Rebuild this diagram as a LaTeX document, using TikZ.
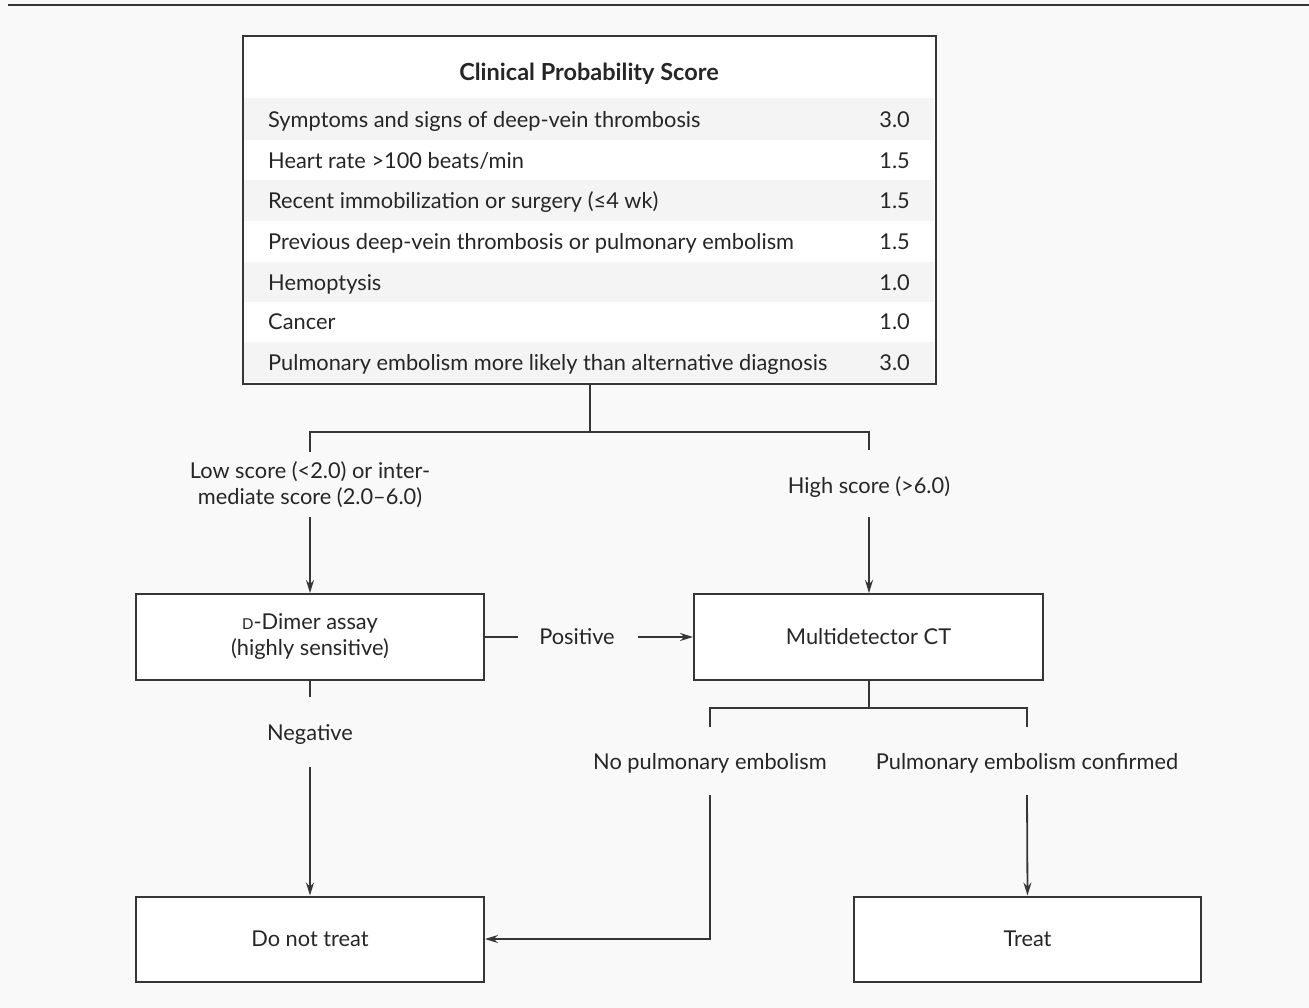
\documentclass[tikz,border=0pt]{standalone}
\usepackage{fontspec}
\setmainfont{Lato}
\usetikzlibrary{arrows.meta}
\definecolor{pagebg}{HTML}{F9F9F9}
\definecolor{stripe}{HTML}{F4F4F4}
\definecolor{ink}{HTML}{262626}
\definecolor{rule}{HTML}{363636}
\begin{document}
\begin{tikzpicture}[x=1pt,y=-1pt,
  font=\fontsize{21.8}{26}\selectfont, text=ink,
  box/.style={draw=rule, line width=2pt, fill=white, inner sep=0pt},
  lbl/.style={inner sep=0pt, align=center, text height=17pt, text depth=2pt},
  twoline/.style={inner sep=0pt, align=center},
  conn/.style={draw=rule, line width=1.8pt},
  arr/.style={conn, -{Stealth[length=13pt,width=8pt]}}]
% page
\fill[pagebg] (0,0) rectangle (1309,1008);
\useasboundingbox (0,0) rectangle (1309,1008);
\draw[rule, line width=2pt] (8,5) -- (1309,5);

% score table
\node[box, minimum width=693pt, minimum height=348pt, anchor=north west] (score) at (242,35) {};
\foreach \yt/\yb in {98/140, 180/221, 262/302, 342/382}
  \fill[stripe] (243.5,\yt) rectangle (933.5,\yb);
\node[lbl, font=\fontsize{23.5}{28}\selectfont\bfseries] (title) at (589,73) {Clinical Probability Score};
\foreach \n/\y/\t/\v in {
  r1/120/{Symptoms and signs of deep-vein thrombosis}/3.0,
  r2/161/{Heart rate >100 beats/min}/1.5,
  r3/201/{Recent immobilization or surgery (≤4 wk)}/1.5,
  r4/242/{Previous deep-vein thrombosis or pulmonary embolism}/1.5,
  r5/283/{Hemoptysis}/1.0,
  r6/322/{Cancer}/1.0,
  r7/363/{Pulmonary embolism more likely than alternative diagnosis}/3.0}{
  \node[lbl, anchor=west] (\n) at (268,\y) {\t};
  \node[lbl, anchor=east] (\n v) at (910,\y) {\v};
}

% branch junctions
\coordinate (split) at (590,432);
\coordinate (lowtop) at (310,432);
\coordinate (hightop) at (869,432);
\coordinate (lowend) at (310,452);
\coordinate (highend) at (869,450);

\node[twoline] (low) at (310,485) {Low score (<2.0) or inter-\\mediate score (2.0–6.0)};
\node[lbl] (high) at (869,486) {High score (>6.0)};

\node[box, minimum width=348pt, minimum height=86pt, align=center] (dd) at (310,637)
  {{\fontsize{15}{15}\selectfont D}-Dimer assay\\(highly sensitive)};
\node[box, minimum width=349pt, minimum height=86pt] (ct) at (868.5,637) {Multidetector CT};

\node[lbl] (pos) at (577,637) {Positive};
\node[lbl] (neg) at (310,733) {Negative};

\node[lbl] (nope) at (710,762) {No pulmonary embolism};
\node[lbl] (pe) at (1027,762) {Pulmonary embolism confirmed};

\node[box, minimum width=348pt, minimum height=85pt] (dnt) at (310,939) {Do not treat};
\node[box, minimum width=347pt, minimum height=85pt] (treat) at (1027.5,939) {Treat};

% connectors from the score table
\draw[conn] (score.south -| split) -- (split);
\draw[conn] (lowend) -- (lowtop) -- (hightop) -- (highend);
\draw[arr] (310,517) -- (dd.north);
\draw[arr] (869,517) -- (ct.north -| 869,0);

% D-dimer outcomes
\draw[conn] (dd.east) -- ++(33,0);
\draw[arr] (638,637) -- (ct.west);
\draw[conn] (dd.south) -- (310,697);
\draw[arr] (310,767) -- (dnt.north);

% CT outcomes
\coordinate (ctsplit) at (869,708);
\draw[conn] (ct.south -| ctsplit) -- (ctsplit);
\draw[conn] (710,727) -- (710,708) -- (1027,708) -- (1027,727);
\draw[arr] (710,795) |- (dnt.east);
\draw[arr] (1027,795) -- (treat.north);
\end{tikzpicture}
\end{document}
